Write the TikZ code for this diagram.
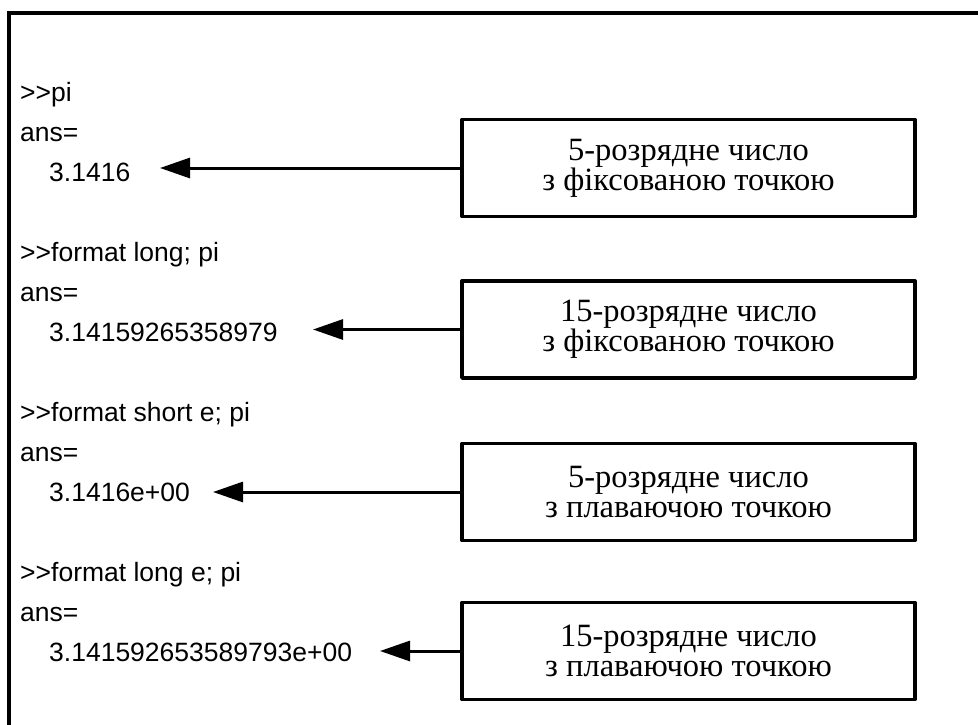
\documentclass[tikz,border=0pt]{standalone}
\usepackage{fontspec}
\setmainfont{Liberation Serif}
\newfontfamily\arialfont{Liberation Sans}
\usetikzlibrary{arrows.meta}
\begin{document}
\begin{tikzpicture}[x=1pt,y=-1pt,
  code/.style={anchor=base west,inner sep=0pt,font=\arialfont\fontsize{26.5}{30}\selectfont},
  infobox/.style={draw,line width=3.4pt,line join=round,minimum width=453pt,minimum height=97pt,
    align=center,inner sep=0pt,font=\fontsize{32.5}{30}\selectfont},
  pointer/.style={line width=3pt,-{Triangle[length=30pt,width=20pt]}}]
\useasboundingbox (0,0) rectangle (978,724);
\draw[line width=4pt] (9,726) -- (9,13) -- (980,13);
% group 1
\node[code] (c1) at (20,101.5) {>{}>pi};
\node[code] (a1) at (20,141.5) {ans=};
\node[code] (n1) at (49,181.5) {3.1416};
\node[infobox] (b1) at (688.5,168) {5-розрядне число\\з фіксованою точкою};
\coordinate (t1) at (160,168);
\draw[pointer] (b1.west) -- (t1);
% group 2
\node[code] (c2) at (20,261.5) {>{}>format long; pi};
\node[code] (a2) at (20,301.5) {ans=};
\node[code] (n2) at (49,341.5) {3.14159265358979};
\node[infobox] (b2) at (688.5,329.5) {15-розрядне число\\з фіксованою точкою};
\coordinate (t2) at (313,329.5);
\draw[pointer] (b2.west) -- (t2);
% group 3
\node[code] (c3) at (20,421.5) {>{}>format short e; pi};
\node[code] (a3) at (20,461.5) {ans=};
\node[code] (n3) at (49,501.5) {3.1416e+00};
\node[infobox] (b3) at (688.5,492) {5-розрядне число\\з плаваючою точкою};
\coordinate (t3) at (213,492);
\draw[pointer] (b3.west) -- (t3);
% group 4
\node[code] (c4) at (20,581.5) {>{}>format long e; pi};
\node[code] (a4) at (20,621.5) {ans=};
\node[code] (n4) at (49,661.5) {3.141592653589793e+00};
\node[infobox] (b4) at (688.5,651) {15-розрядне число\\з плаваючою точкою};
\coordinate (t4) at (380,651);
\draw[pointer] (b4.west) -- (t4);
\end{tikzpicture}
\end{document}
